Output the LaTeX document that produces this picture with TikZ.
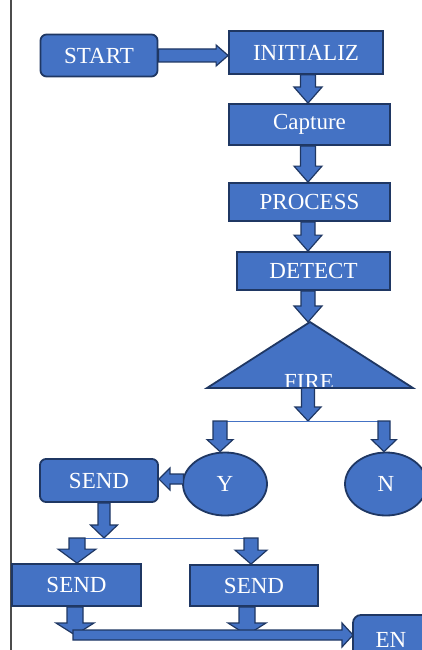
\documentclass[tikz,border=0pt]{standalone}
\usepackage{fontspec}
\setmainfont{Liberation Serif}
\usetikzlibrary{calc,shapes.geometric}
\definecolor{ofblue}{HTML}{4472C4}
\definecolor{ofnavy}{HTML}{1F3763}
\tikzset{
  lbl/.style={text=white, font=\fontsize{23}{26}\selectfont},
  box/.style={draw=ofnavy, fill=ofblue, line width=1.8pt, inner sep=0pt, lbl},
  rbox/.style={box, rounded corners=6pt},
  oval/.style={box, ellipse},
  arrfill/.style={fill=ofblue, draw=ofnavy, line width=1.2pt, line join=miter},
  thinline/.style={draw=ofblue, line width=0.8pt},
}
% block arrow down: from, to, body half width, head half width, head length
\newcommand\bdown[5]{\path[arrfill] let \p1=#1, \p2=#2 in
  (\x1-#3pt,\y1) -- (\x1-#3pt,\y2+#5pt) -- (\x1-#4pt,\y2+#5pt) -- (\x1,\y2) --
  (\x1+#4pt,\y2+#5pt) -- (\x1+#3pt,\y2+#5pt) -- (\x1+#3pt,\y1) -- cycle;}
% block arrow right
\newcommand\bright[5]{\path[arrfill] let \p1=#1, \p2=#2 in
  (\x1,\y1+#3pt) -- (\x2-#5pt,\y1+#3pt) -- (\x2-#5pt,\y1+#4pt) -- (\x2,\y1) --
  (\x2-#5pt,\y1-#4pt) -- (\x2-#5pt,\y1-#3pt) -- (\x1,\y1-#3pt) -- cycle;}
% block arrow left
\newcommand\bleft[5]{\path[arrfill] let \p1=#1, \p2=#2 in
  (\x1,\y1+#3pt) -- (\x2+#5pt,\y1+#3pt) -- (\x2+#5pt,\y1+#4pt) -- (\x2,\y1) --
  (\x2+#5pt,\y1-#4pt) -- (\x2+#5pt,\y1-#3pt) -- (\x1,\y1-#3pt) -- cycle;}
\begin{document}
\begin{tikzpicture}[x=1pt,y=-1pt]
\useasboundingbox (0,0) rectangle (422,650);
\draw[black!70, line width=1.2pt] (11,0) -- (11,650);

% nodes
\node[rbox, minimum width=117pt, minimum height=42pt] (start) at (99,55.5) {START};
\node[box, minimum width=154pt, minimum height=43pt] (init) at (306,52.5) {INITIALIZ};
\node[box, minimum width=161pt, minimum height=41pt] (cap) at (309.5,124.5) {Capture};
\node[box, minimum width=161pt, minimum height=38pt] (proc) at (309.5,202) {PROCESS};
\node[box, minimum width=153pt, minimum height=38pt] (det) at (313.5,271) {DETECT};

\coordinate (ax) at (308,0);
\coordinate (apex) at (310,322);
\coordinate (bl) at (207,388);
\coordinate (br) at (413,388);
\filldraw[fill=ofblue, draw=ofnavy, line width=1.8pt, line join=miter] (apex) -- (br) -- (bl) -- cycle;
\begin{scope}
  \clip (apex) -- (br) -- (bl) -- cycle;
  \node[lbl, anchor=base, inner sep=0pt] (fire) at (309,389) {FIRE};
\end{scope}
\draw[ofnavy, line width=1.8pt] (bl) -- (br);

\node[oval, minimum width=84pt, minimum height=63pt] (y) at (225,484) {Y};
\node[oval, minimum width=82pt, minimum height=63pt] (n) at (386,484) {N};
\node[rbox, minimum width=118pt, minimum height=43pt] (send1) at (99,480.5) {SEND};
\node[box, minimum width=129pt, minimum height=42pt] (send2) at (76.5,585) {SEND};
\node[box, minimum width=128pt, minimum height=41pt] (send3) at (254,585.5) {SEND};
\draw[draw=ofnavy, fill=ofblue, line width=1.8pt, rounded corners=8pt] (353,615) rectangle (450,680);
\node[lbl, anchor=base, inner sep=0pt] (en) at (391,647) {EN};

% connectors
\bright{(start.east)}{(init.west)}{6.5}{10.5}{12}
\bdown{(init.south -| ax)}{(cap.north -| ax)}{7.5}{14}{16}
\bdown{(cap.south -| ax)}{(proc.north -| ax)}{7.5}{14}{16}
\bdown{(proc.south -| ax)}{(det.north -| ax)}{7}{14}{16}
\bdown{(det.south -| ax)}{(apex)}{7}{14}{16}

\coordinate (fl) at (308,421);
\coordinate (bL) at (213,421);
\coordinate (bR) at (388,421);
\bdown{(bl -| ax)}{(fl)}{6.5}{13}{14}
\draw[thinline] (bL) -- (bR);
\coordinate (yl) at (220,421);
\coordinate (nl) at (384,421);
\bdown{(yl)}{(y.north -| yl)}{7}{13}{12}
\bdown{(nl)}{(n.north -| nl)}{6}{12.5}{12}

\coordinate (yw) at (183.5,479);
\bleft{(yw)}{(send1.east |- yw)}{5}{11}{11}

\coordinate (sx) at (104,0);
\coordinate (spl) at (104,538);
\bdown{(send1.south -| sx)}{(spl)}{6}{13.5}{13}
\coordinate (sL) at (83,538);
\coordinate (sR) at (247,538);
\draw[thinline] (sL) -- (sR);
\coordinate (l2) at (77,538);
\coordinate (r2) at (251,538);
\bdown{(l2)}{(send2.north -| l2)}{8}{19}{14}
\bdown{(r2)}{(send3.north -| r2)}{7}{16}{14}

\coordinate (bs) at (73,635);
\coordinate (be) at (353,635);
\coordinate (c2) at (75,0);
\coordinate (c3) at (247,0);
\bdown{(send2.south -| c2)}{(bs -| c2)}{8}{19}{12}
\bdown{(send3.south -| c3)}{(bs -| c3)}{8}{19}{12}
\bright{(bs)}{(be)}{5}{12}{11}
\end{tikzpicture}
\end{document}
